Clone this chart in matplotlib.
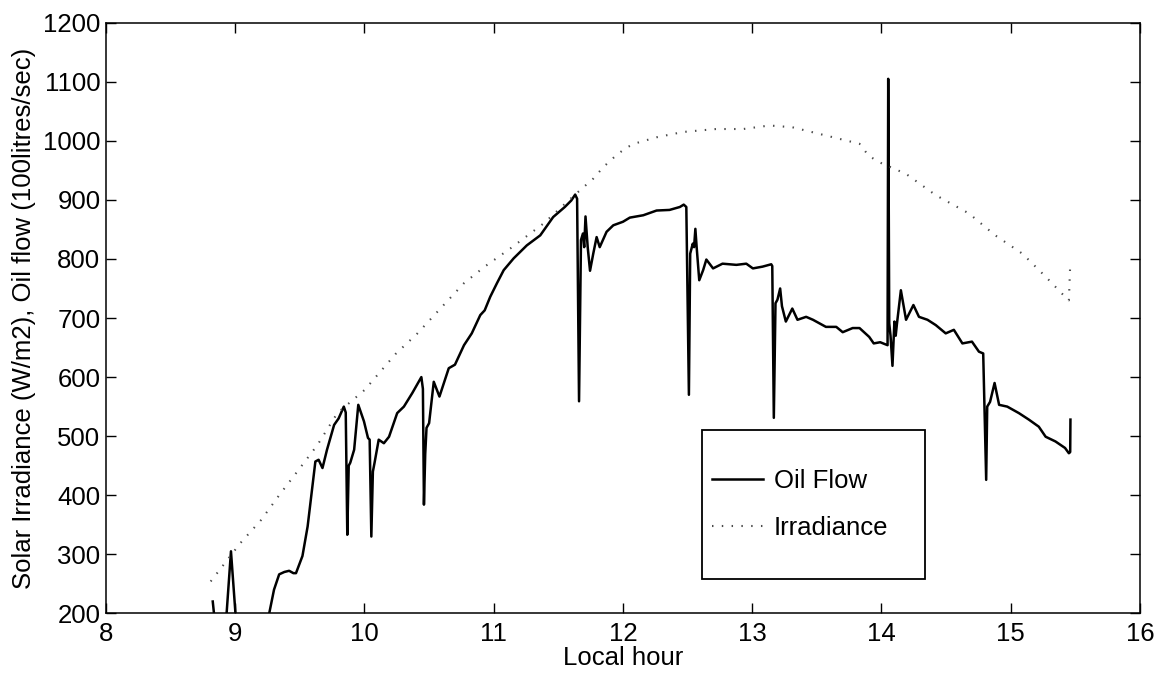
import matplotlib
matplotlib.use("Agg")
import matplotlib.pyplot as plt
from matplotlib.patches import Rectangle

plt.rcParams['font.family'] = ['Liberation Sans', 'DejaVu Sans']

# Oil flow (100 litres/sec) vs local hour
oil_hours = [8.826, 8.845, 8.90, 8.93, 8.967, 9.005, 9.10, 9.25, 9.263, 9.30, 9.34, 9.38,
             9.417, 9.45, 9.47, 9.52, 9.56, 9.60, 9.62, 9.645, 9.675, 9.71, 9.765, 9.80,
             9.84, 9.855, 9.867, 9.878, 9.89, 9.92, 9.952, 9.996, 10.027, 10.04, 10.053,
             10.065, 10.078, 10.11, 10.15, 10.19, 10.253, 10.305, 10.37, 10.44, 10.452,
             10.46, 10.47, 10.48, 10.50, 10.536, 10.58, 10.652, 10.70, 10.77, 10.83,
             10.896, 10.93, 10.973, 11.025, 11.077, 11.154, 11.256, 11.36, 11.46, 11.55,
             11.60, 11.63, 11.645, 11.66, 11.675, 11.69, 11.70, 11.71, 11.727, 11.745,
             11.77, 11.796, 11.82, 11.873, 11.925, 12.0, 12.053, 12.157, 12.26, 12.36,
             12.44, 12.47, 12.49, 12.51, 12.52, 12.54, 12.55, 12.56, 12.57, 12.59, 12.62,
             12.645, 12.697, 12.77, 12.877, 12.954, 13.005, 13.08, 13.147, 13.155, 13.167,
             13.18, 13.195, 13.216, 13.23, 13.26, 13.31, 13.35, 13.417, 13.47, 13.57,
             13.65, 13.70, 13.777, 13.83, 13.905, 13.94, 13.99, 14.047, 14.052, 14.06,
             14.07, 14.085, 14.10, 14.11, 14.12, 14.15, 14.19, 14.247, 14.29, 14.356,
             14.42, 14.497, 14.56, 14.626, 14.70, 14.754, 14.787, 14.81, 14.818, 14.84,
             14.875, 14.91, 14.973, 15.063, 15.14, 15.217, 15.27, 15.346, 15.42, 15.45,
             15.46, 15.462]
oil_flow = [220, 180, 150, 190, 305, 190, 150, 180, 200, 240, 266, 270,
            272, 268, 268, 297, 347, 420, 457, 460, 446, 477, 519, 530,
            550, 540, 333, 450, 455, 477, 553, 525, 497, 494, 330,
            440, 455, 494, 488, 499, 539, 550, 573, 600, 580,
            384, 470, 514, 522, 592, 567, 615, 621, 654, 674,
            705, 713, 736, 759, 781, 801, 823, 840, 871, 888,
            899, 909, 902, 559, 832, 843, 820, 872, 820, 780,
            809, 837, 820, 846, 857, 863, 870, 874, 882, 883,
            888, 892, 888, 570, 809, 826, 820, 851, 820, 764, 781,
            799, 784, 792, 790, 792, 784, 787, 791, 788, 531,
            725, 731, 750, 720, 694, 716, 697, 702, 697, 685,
            685, 676, 683, 683, 668, 657, 659, 654, 1105, 691,
            670, 619, 694, 670, 691, 747, 697, 722, 702, 697,
            688, 674, 680, 657, 660, 643, 640, 426, 550, 558,
            590, 553, 550, 539, 528, 516, 499, 491, 480, 471,
            473, 528]

# Solar irradiance (W/m2) vs local hour
irr_hours = [8.81, 9.04, 9.2, 9.34, 9.48, 9.636, 9.79, 10.0, 10.24, 10.41, 10.587,
             10.77, 10.93, 11.13, 11.385, 11.64, 11.77, 11.85, 11.95, 12.03, 12.1, 12.26,
             12.465, 12.72, 12.93, 13.134, 13.31, 13.57, 13.83, 13.90, 13.98, 14.19,
             14.42, 14.677, 14.88, 15.09, 15.27, 15.42, 15.45, 15.46]
irradiance = [254, 319, 358, 400, 440, 485, 539, 578, 639, 674, 716,
              759, 787, 818, 860, 911, 936, 956, 976, 989, 996, 1006,
              1015, 1020, 1020, 1026, 1023, 1009, 995, 975, 964, 944,
              908, 877, 840, 809, 770, 736, 730, 790]

x_ticks = [8, 9, 10, 11, 12, 13, 14, 15, 16]
y_ticks = [200, 300, 400, 500, 600, 700, 800, 900, 1000, 1100, 1200]

FS = 18.5

fig = plt.figure(figsize=(11.75, 6.78), dpi=100)
ax = fig.add_axes([0.0902, 0.0954, 0.8800, 0.8711])

ax.plot(oil_hours, oil_flow, color='black', lw=1.8, label='Oil Flow')
ax.plot(irr_hours, irradiance, color='#4a4a4a', lw=1.5, linestyle=(0, (0.7, 4.0)),
        label='Irradiance')

ax.set_xlim(8, 16)
ax.set_ylim(200, 1200)
ax.set_xticks(x_ticks)
ax.set_yticks(y_ticks)
ax.tick_params(direction='in', top=True, right=True, length=7, width=1,
               labelsize=FS, pad=4)
ax.tick_params(axis='x', pad=6)
for s in ax.spines.values():
    s.set_linewidth(1.1)

ax.set_xlabel('Local hour', fontsize=FS, labelpad=0)
ax.set_ylabel('Solar Irradiance (W/m2), Oil flow (100litres/sec)', fontsize=FS, labelpad=5)

# legend box frame
ax.add_patch(Rectangle((0.5764, 0.0581), 0.2157, 0.2523, transform=ax.transAxes,
                       facecolor='white', edgecolor='black', lw=1.3, zorder=4))
leg = ax.legend(loc='upper left', bbox_to_anchor=(0.586, 0.244),
                borderaxespad=0, fontsize=FS, frameon=False, borderpad=0,
                labelspacing=0.88, handlelength=2.0, handletextpad=0.4)
leg.set_zorder(5)

fig.savefig('out.png', dpi=100)
